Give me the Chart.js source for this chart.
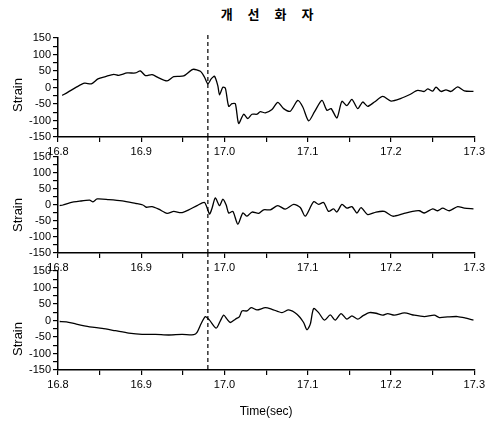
<!DOCTYPE html>
<html>
<head>
<meta charset="utf-8">
<script src="https://cdn.jsdelivr.net/npm/chart.js@4/dist/chart.umd.min.js"></script>
<style>
html,body{margin:0;padding:0;background:#fff;}
#wrap{position:relative;width:488px;height:430px;overflow:hidden;font-family:'Liberation Sans',Arial,sans-serif;color:#000;}
canvas{position:absolute;left:0;top:0;}
.ylab{position:absolute;transform:translate(-50%,-50%) rotate(-90deg);font-size:13px;white-space:nowrap;}
#title{position:absolute;top:4px;left:270px;transform:translateX(-50%);font-family:'Noto Sans CJK KR',sans-serif;font-weight:bold;font-size:13px;letter-spacing:6px;white-space:nowrap;}
</style>
</head>
<body>
<div id="wrap">
  <div id="title">개 선 화 자</div>
  <canvas id="c1" width="488" height="430"></canvas>
  <canvas id="c2" width="488" height="430"></canvas>
  <canvas id="c3" width="488" height="430"></canvas>
  <div class="ylab" style="left:17px;top:95px;">Strain</div>
  <div class="ylab" style="left:17px;top:215px;">Strain</div>
  <div class="ylab" style="left:17px;top:339px;">Strain</div>
</div>
<script>
// ---- data ----
const markTime = 16.98;
const xTicks = [16.8, 16.85, 16.9, 16.95, 17.0, 17.05, 17.1, 17.15, 17.2, 17.25, 17.3];
const yTicks = [-150, -125, -100, -75, -50, -25, 0, 25, 50, 75, 100, 125, 150];

const time1 = [16.805,16.812,16.822,16.832,16.840,16.848,16.857,16.867,16.873,16.883,16.893,16.899,16.905,16.913,16.921,16.931,16.939,16.951,16.962,16.971,16.976,16.980,16.984,16.988,16.992,16.994,16.998,17.001,17.005,17.009,17.013,17.017,17.023,17.028,17.033,17.039,17.043,17.049,17.057,17.064,17.071,17.079,17.088,17.094,17.101,17.108,17.117,17.123,17.128,17.135,17.141,17.147,17.153,17.160,17.166,17.172,17.180,17.190,17.200,17.212,17.222,17.232,17.240,17.244,17.250,17.254,17.260,17.266,17.272,17.280,17.288,17.299];
const strain1 = [-24,-14,1,13,11,26,33,40,37,44,44,50,36,39,29,20,33,35,55,49,31,11,26,34,5,-22,1,-2,-57,-49,-49,-109,-81,-94,-81,-81,-73,-77,-67,-45,-64,-72,-39,-59,-101,-74,-39,-69,-64,-92,-42,-55,-36,-64,-44,-57,-44,-27,-41,-33,-22,-9,-12,-4,-11,1,-12,-7,-12,2,-10,-12];

const time2 = [16.802,16.806,16.814,16.826,16.838,16.842,16.847,16.861,16.877,16.893,16.902,16.906,16.913,16.921,16.931,16.939,16.948,16.957,16.967,16.976,16.982,16.985,16.989,16.994,16.998,17.002,17.005,17.010,17.016,17.022,17.027,17.033,17.041,17.047,17.055,17.064,17.073,17.083,17.091,17.097,17.107,17.113,17.119,17.125,17.131,17.135,17.141,17.147,17.153,17.159,17.164,17.172,17.182,17.192,17.202,17.214,17.226,17.234,17.240,17.250,17.256,17.262,17.270,17.280,17.288,17.299];
const strain2 = [-2,0,7,12,15,10,19,17,13,5,0,-7,-5,-13,-26,-20,-24,-15,-2,8,-28,-10,22,-2,18,0,-25,-20,-60,-25,-35,-22,-26,-15,-15,-2,-13,2,-8,-35,10,2,8,-20,-12,-22,2,-10,-5,-25,-8,-30,-22,-20,-35,-28,-20,-18,-25,-12,-18,-10,-18,-5,-10,-12];

const time3 = [16.802,16.810,16.822,16.838,16.853,16.869,16.885,16.901,16.917,16.933,16.949,16.963,16.967,16.972,16.977,16.982,16.990,16.995,16.999,17.003,17.007,17.013,17.018,17.021,17.027,17.032,17.039,17.049,17.057,17.069,17.077,17.087,17.095,17.099,17.103,17.107,17.113,17.120,17.127,17.133,17.140,17.147,17.153,17.160,17.166,17.174,17.182,17.190,17.196,17.204,17.216,17.228,17.240,17.252,17.258,17.268,17.280,17.290,17.299];
const strain3 = [-3,-4,-11,-19,-24,-31,-38,-42,-42,-44,-42,-43,-36,-9,12,1,-23,-1,16,4,-6,4,12,29,29,39,32,39,34,24,32,19,-6,-28,-11,36,24,1,17,1,21,4,14,4,14,24,22,16,21,16,23,16,12,16,9,11,12,7,1];

// ---- drawing ----
const tickFont = {family: "'Liberation Sans', Arial, sans-serif", size: 11};
const isMajorX = v => Math.abs(v * 10 - Math.round(v * 10)) < 1e-6;

const vlinePlugin = {
  id: 'vline',
  afterDatasetsDraw(chart, args, opts) {
    const {ctx, chartArea, scales} = chart;
    const x = scales.x.getPixelForValue(opts.value);
    ctx.save();
    ctx.strokeStyle = '#000';
    ctx.lineWidth = 1.2;
    ctx.setLineDash([4, 3]);
    ctx.beginPath();
    ctx.moveTo(x, chartArea.top - opts.ext);
    ctx.lineTo(x, chartArea.bottom);
    ctx.stroke();
    ctx.restore();
  }
};

function makePanel(id, times, values, top, bottom, ext, xHeight, xTitle) {
  const padBottom = 430 - bottom - xHeight;
  return new Chart(document.getElementById(id), {
    type: 'line',
    data: {
      datasets: [{
        data: times.map((t, i) => ({x: t, y: values[i]})),
        borderColor: '#000',
        borderWidth: 1.3,
        pointRadius: 0,
        tension: 0.25,
        fill: false
      }]
    },
    options: {
      responsive: false,
      animation: false,
      layout: {padding: {left: 0, right: 12, top: top, bottom: padBottom}},
      plugins: {
        legend: {display: false},
        tooltip: {enabled: false},
        vline: {value: markTime, ext: ext}
      },
      scales: {
        x: {
          type: 'linear', min: 16.8, max: 17.3,
          afterBuildTicks: a => { a.ticks = xTicks.map(v => ({value: v})); },
          afterFit: a => { a.height = xHeight; },
          ticks: {
            autoSkip: false, maxRotation: 0, padding: 3, color: '#000', font: tickFont,
            callback: v => isMajorX(v) ? v.toFixed(1) : ''
          },
          grid: {drawOnChartArea: false, drawTicks: true, tickLength: 5, color: '#000', lineWidth: 1.2},
          border: {display: true, color: '#000', width: 1.5},
          title: xTitle ? {display: true, text: xTitle, color: '#000',
            font: {family: "'Liberation Sans', Arial, sans-serif", size: 12}, padding: {top: 0, bottom: 0}} : {display: false}
        },
        y: {
          min: -150, max: 150,
          afterBuildTicks: a => { a.ticks = yTicks.map(v => ({value: v})); },
          afterFit: a => { a.width = 58; },
          ticks: {
            autoSkip: false, padding: 2, color: '#000', font: tickFont,
            callback: v => (v % 50 === 0) ? String(v) : ''
          },
          grid: {drawOnChartArea: false, drawTicks: true, tickLength: 5, color: '#000', lineWidth: 1.2},
          border: {display: true, color: '#000', width: 1.5}
        }
      }
    },
    plugins: [vlinePlugin]
  });
}

makePanel('c1', time1, strain1, 38, 137, 3, 22, null);
makePanel('c2', time2, strain2, 157, 253, 20, 22, null);
makePanel('c3', time3, strain3, 271, 370, 18, 49, 'Time(sec)');
</script>
</body>
</html>
